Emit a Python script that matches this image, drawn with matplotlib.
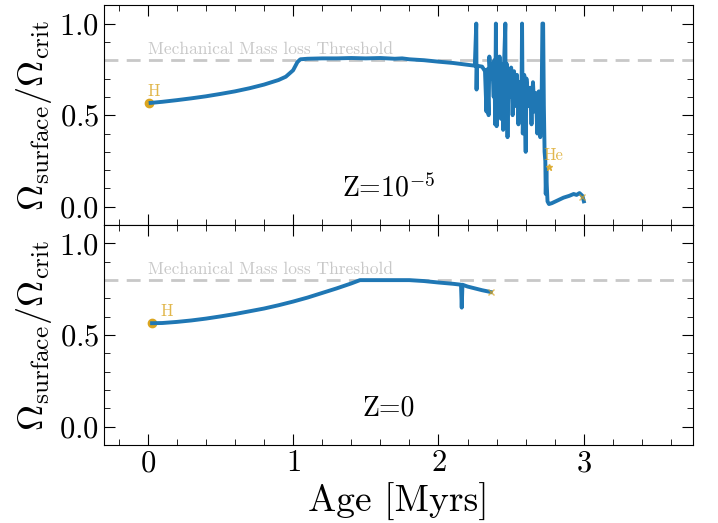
import numpy as np
import matplotlib.pyplot as plt
from matplotlib.ticker import MultipleLocator

plt.rcParams['font.family'] = 'cmr10'
plt.rcParams['mathtext.fontset'] = 'cm'
plt.rcParams['axes.unicode_minus'] = False
plt.rcParams['axes.formatter.use_mathtext'] = True

# Z = 1e-5 track
age_z5 = [0.02, 0.1, 0.2, 0.3, 0.4, 0.5, 0.6, 0.7, 0.8, 0.9, 0.95, 1.0, 1.03, 1.05,
          1.1, 1.2, 1.3, 1.4, 1.5, 1.6, 1.7, 1.75, 1.8, 1.9, 2.0, 2.1, 2.2, 2.25,
          2.26, 2.262, 2.265, 2.3, 2.32, 2.33, 2.335, 2.345, 2.35, 2.36, 2.37, 2.38,
          2.385, 2.39, 2.395, 2.40, 2.41, 2.415, 2.42, 2.43, 2.44, 2.445, 2.45, 2.46,
          2.462, 2.47, 2.475, 2.48, 2.49, 2.50, 2.51, 2.52, 2.53, 2.54, 2.55, 2.56,
          2.57, 2.575, 2.58, 2.59, 2.60, 2.605, 2.62, 2.63, 2.64, 2.65, 2.66, 2.67,
          2.68, 2.69, 2.70, 2.71, 2.715, 2.72, 2.725, 2.73, 2.735, 2.738, 2.742,
          2.745, 2.75, 2.76, 2.78, 2.82, 2.86, 2.90, 2.93, 2.95, 2.97, 2.99, 3.0]
omega_z5 = [0.567, 0.573, 0.582, 0.592, 0.603, 0.616, 0.630, 0.647, 0.667, 0.692, 0.71,
            0.745, 0.79, 0.805, 0.808, 0.81, 0.81, 0.812, 0.81, 0.812, 0.808, 0.81,
            0.805, 0.80, 0.792, 0.785, 0.775, 0.77,
            1.0, 0.64, 0.77, 0.765, 0.74, 0.52, 0.75, 0.50, 0.82, 0.70, 0.78, 0.60,
            0.80, 0.45, 1.0, 0.44, 0.80, 0.55, 0.82, 0.48, 0.78, 0.42, 0.75, 1.0,
            0.50, 0.78, 0.38, 0.70, 0.60, 0.76, 0.50, 0.74, 0.55, 0.72, 0.45, 0.68,
            0.50, 1.0, 0.40, 0.72, 0.30, 0.70, 0.55, 0.65, 0.45, 0.68, 0.52, 0.62,
            0.40, 0.63, 0.38, 0.62, 1.0, 1.0, 0.55, 0.30, 0.25, 0.07, 0.20,
            0.12, 0.03, 0.015, 0.02, 0.035, 0.05, 0.06, 0.07, 0.065, 0.075, 0.06, 0.03]

# Z = 0 track
age_z0 = [0.03, 0.1, 0.2, 0.3, 0.4, 0.5, 0.6, 0.7, 0.8, 0.9, 1.0, 1.1, 1.2, 1.3, 1.4,
          1.46, 1.6, 1.7, 1.8, 1.9, 2.0, 2.1, 2.155, 2.16, 2.165, 2.2, 2.25, 2.3, 2.36]
omega_z0 = [0.565, 0.566, 0.572, 0.58, 0.59, 0.602, 0.615, 0.63, 0.645, 0.663, 0.683,
            0.705, 0.73, 0.755, 0.782, 0.80, 0.80, 0.80, 0.80, 0.795, 0.787, 0.78,
            0.775, 0.65, 0.775, 0.765, 0.755, 0.745, 0.735]

threshold = 0.8
labels = [r'Z=$10^{-5}$', 'Z=0']
h_start = [(0.01, 0.567), (0.03, 0.565)]
h_text = [(0.0, 0.59), (0.09, 0.59)]
he_point = (2.76, 0.22)
end_marks = [(2.99, 0.055), (2.36, 0.735)]

blue = '#1f77b4'
gold = '#daa520'

fig, axes = plt.subplots(2, 1, figsize=(7.18, 5.23), dpi=100, sharex=True)
fig.subplots_adjust(left=0.145, right=0.965, top=0.99, bottom=0.149, hspace=0)

tracks = [(age_z5, omega_z5), (age_z0, omega_z0)]
for i, ax in enumerate(axes):
    x, y = tracks[i]
    ax.axhline(threshold, color='#c8c8c8', ls='--', lw=2, dashes=(5, 3))
    ax.text(0.0, threshold + 0.015, 'Mechanical Mass loss Threshold',
            color='#c8c8c8', fontsize=12.5, va='bottom')
    ax.plot(x, y, color=blue, lw=2.8)
    ax.plot(*h_start[i], 'o', color=gold, ms=6, zorder=1)
    ax.text(*h_text[i], 'H', color=gold, fontsize=12, alpha=0.8, va='bottom')
    ax.plot(*end_marks[i], 'x', color=gold, ms=5, mew=1, alpha=0.7)
    ax.text(1.66, 0.1, labels[i], fontsize=20, ha='center', va='center')
    ax.set_ylim(-0.1, 1.1)
    ax.set_xlim(-0.3, 3.75)
    ax.set_ylabel(r'$\Omega_{\rm surface}/\Omega_{\rm crit}$', fontsize=26)
    ax.yaxis.set_major_locator(MultipleLocator(0.5))
    ax.yaxis.set_minor_locator(MultipleLocator(0.1))
    ax.xaxis.set_major_locator(MultipleLocator(1))
    ax.xaxis.set_minor_locator(MultipleLocator(0.2))
    ax.tick_params(which='both', direction='in', top=True, right=True, labelsize=22)
    ax.tick_params(which='major', length=8)
    ax.tick_params(which='minor', length=4)

axes[0].text(he_point[0] - 0.04, he_point[1] + 0.02, 'He', color=gold, fontsize=12,
             alpha=0.8, va='bottom')
axes[0].plot(*he_point, '*', color=gold, ms=5, alpha=0.8)
axes[1].set_xlabel('Age [Myrs]', fontsize=27)

plt.savefig('out.png', dpi=100)
